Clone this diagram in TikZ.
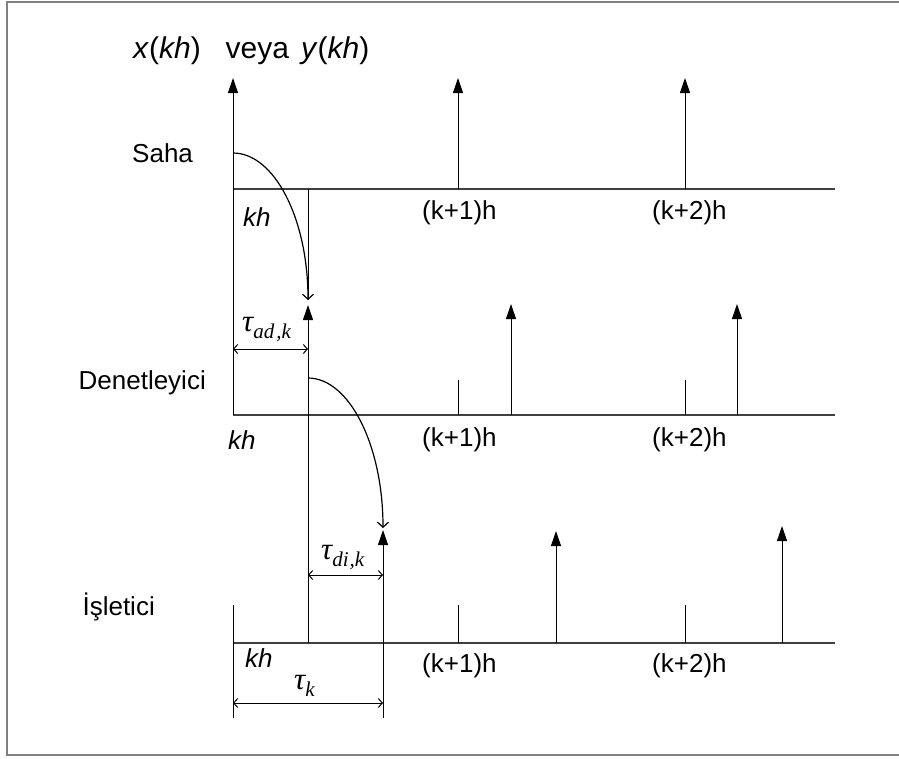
\documentclass[tikz,border=0pt]{standalone}
\usepackage[no-math]{fontspec}
\setmainfont{Liberation Sans}
\newfontfamily\tauface{Liberation Serif}
\usepackage{tikz}
\usetikzlibrary{arrows.meta}

% delay symbol: tau with a lowered index, set in a Times-like italic
\newcommand{\delay}[1]{{\tauface\itshape\fontsize{31}{32}\selectfont τ\raisebox{-7pt}{\fontsize{21}{21}\selectfont #1}}}

\begin{document}
\begin{tikzpicture}[x=1pt, y=-1pt,
  lbl/.style={font=\fontsize{26}{30}\selectfont, inner sep=0pt},
  ax/.style={draw=black!75, line width=1.5pt},
  imp/.style={line width=1pt, -{Triangle[length=15pt, width=10pt]}},
  tick/.style={line width=1pt},
  flow/.style={line width=1.2pt, -{Straight Barb[length=5pt, width=11pt]}},
  dim/.style={line width=1pt, {Straight Barb[length=4pt, width=9pt]}-{Straight Barb[length=4pt, width=9pt]}},
]
  \useasboundingbox (0,0) rectangle (899,758);
  \draw[gray, line width=2.5pt] (910,2) -- (7,2) -- (7,755) -- (910,755);

  % baselines of the three levels
  \coordinate (s0) at (233,189);  \coordinate (s3) at (835,189);
  \coordinate (d0) at (233,415);  \coordinate (d3) at (835,415);
  \coordinate (i0) at (233,643);  \coordinate (i3) at (835,643);
  \draw[ax] (s0) -- (s3);
  \draw[ax] (d0) -- (d3);
  \draw[ax] (i0) -- (i3);

  % Saha
  \coordinate (stop) at (233,78);
  \draw[imp] (d0) -- (stop);
  \foreach \x/\n in {458/s1, 685/s2} {
    \coordinate (\n) at (\x,189);
    \coordinate (\n t) at (\x,78);
    \draw[imp] (\n) -- (\n t);
  }
  \coordinate (sk) at (308,189);
  \coordinate (skb) at (308,300);
  \draw[tick] (sk) -- (skb);

  % Denetleyici
  \coordinate (dk) at (308,415);
  \coordinate (dkt) at (308,305);
  \draw[imp] (dk) -- (dkt);
  \foreach \x/\n in {458/d1, 685/d2} {
    \coordinate (\n) at (\x,415);
    \coordinate (\n t) at (\x,380);
    \draw[tick] (\n) -- (\n t);
  }
  \foreach \x/\n in {511/d4, 737/d5} {
    \coordinate (\n) at (\x,415);
    \coordinate (\n t) at (\x,304);
    \draw[imp] (\n) -- (\n t);
  }

  % Isletici
  \coordinate (ia) at (233,605);  \coordinate (ib) at (233,718);
  \draw[tick] (ia) -- (ib);
  \coordinate (dc) at (308,378);
  \coordinate (ik) at (308,643);
  \draw[tick] (dc) -- (ik);
  \coordinate (ikb) at (383,718);  \coordinate (ikt) at (383,530);
  \draw[imp] (ikb) -- (ikt);
  \foreach \x/\n in {458/i1, 685/i2} {
    \coordinate (\n) at (\x,643);
    \coordinate (\n t) at (\x,605);
    \draw[tick] (\n) -- (\n t);
  }
  \foreach \x/\y/\n in {556/531/i4, 782/526/i5} {
    \coordinate (\n) at (\x,643);
    \coordinate (\n t) at (\x,\y);
    \draw[imp] (\n) -- (\n t);
  }

  % delays
  \coordinate (sc) at (233,153);
  \draw[flow] (sc) .. controls +(41,0) and +(0,-82) .. (skb);
  \coordinate (ikc) at (383,528);
  \draw[flow] (dc) .. controls +(41,0) and +(0,-83) .. (ikc);

  \coordinate (ad0) at (233,349);  \coordinate (ad1) at (308,349);
  \draw[dim] (ad0) -- (ad1);
  \coordinate (di0) at (308,575);  \coordinate (di1) at (383,575);
  \draw[dim] (di0) -- (di1);
  \coordinate (tk0) at (233,703);  \coordinate (tk1) at (383,703);
  \draw[dim] (tk0) -- (tk1);

  % labels
  \node[lbl, font=\fontsize{30}{32}\selectfont, anchor=west] (title) at (133,51)
       {\textit{x}(\textit{kh})\hspace{25pt}veya\hspace{12pt}\textit{y}(\textit{kh})};
  \node[lbl, anchor=west] (saha) at (132,153) {Saha};
  \node[lbl, anchor=east] (den) at (206,383) {Denetleyici};
  \node[lbl, anchor=east] (isl) at (155,607) {İşletici};

  \node[lbl, anchor=west] (skh) at (243,217) {\textit{kh}};
  \node[lbl, anchor=west] (dkh) at (228,440) {\textit{kh}};
  \node[lbl, anchor=west] (ikh) at (245,658) {\textit{kh}};
  \foreach \y/\n in {213/s, 440/d, 666/i} {
    \node[lbl, anchor=west] (\n k1) at (422,\y) {(k+1)h};
    \node[lbl, anchor=west] (\n k2) at (652,\y) {(k+2)h};
  }

  \node[inner sep=0pt, anchor=west] (tad) at (242,329) {\delay{ad\kern2pt,k}};
  \node[inner sep=0pt, anchor=west] (tdi) at (321,557) {\delay{di\kern1pt,k}};
  \node[inner sep=0pt, anchor=west] (tk)  at (294,686) {\delay{k}};
\end{tikzpicture}
\end{document}
